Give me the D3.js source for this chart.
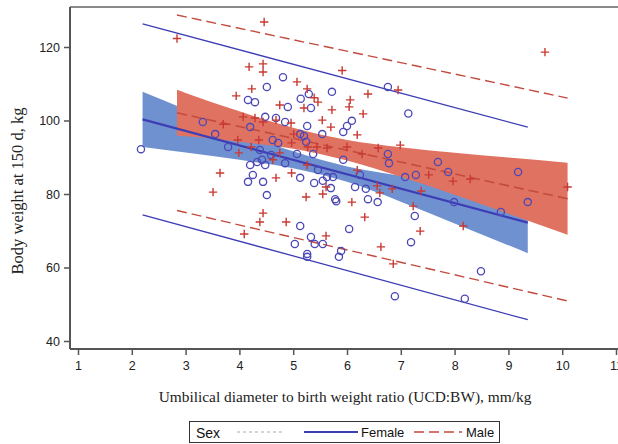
<!DOCTYPE html>
<html>
<head>
<meta charset="utf-8">
<script src="https://cdn.jsdelivr.net/npm/d3@7"></script>
<style>
  html, body { margin: 0; padding: 0; background: #fff; }
  svg { display: block; }
</style>
</head>
<body>
<svg id="chart" width="618" height="444"></svg>
<script>
// Female observations: [UCD:BW ratio, body weight at 150 d]
const femalePoints = [
  [2.17, 92.2], [3.32, 99.6], [4.51, 109.1], [4.81, 111.8], [4.16, 105.6], [4.29, 105.0],
  [4.90, 103.7], [5.14, 105.9], [5.29, 107.2], [5.33, 103.4], [5.72, 107.8], [6.76, 109.1],
  [7.14, 101.9], [4.48, 101.0], [4.68, 100.7], [4.85, 99.6], [4.20, 98.2], [5.26, 98.5],
  [3.55, 96.3], [5.13, 96.3], [5.20, 95.8], [5.54, 96.3], [5.93, 96.9], [6.00, 98.5],
  [6.09, 99.9], [3.79, 92.8], [4.62, 94.7], [4.72, 93.9], [5.24, 94.2], [5.07, 90.9],
  [5.37, 90.9], [4.38, 92.0], [4.59, 90.6], [4.85, 88.4], [4.20, 87.9], [4.33, 88.7],
  [4.42, 89.3], [4.48, 87.9], [4.25, 85.2], [4.16, 83.3], [4.44, 83.3], [5.13, 84.4],
  [5.46, 86.5], [5.63, 84.6], [5.74, 84.6], [5.39, 83.0], [5.93, 89.3], [6.15, 81.9],
  [6.35, 81.4], [5.70, 81.6], [6.76, 90.9], [6.78, 88.4], [4.51, 79.7], [6.24, 85.2],
  [7.69, 88.7], [7.88, 86.0], [7.28, 85.2], [7.08, 84.6], [9.18, 86.0], [9.36, 77.8],
  [8.86, 75.1], [7.99, 77.8], [7.26, 74.0], [8.49, 59.0], [8.19, 51.5], [7.19, 66.9],
  [5.78, 78.6], [5.80, 78.0], [6.39, 78.6], [6.57, 77.8], [6.04, 70.5], [5.13, 71.3],
  [5.33, 68.3], [5.40, 66.4], [5.55, 66.4], [5.89, 64.5], [5.85, 62.9], [5.26, 63.7],
  [5.26, 62.9], [6.89, 52.2], [5.03, 66.4], [5.55, 83.6]
];

// Male observations: [UCD:BW ratio, body weight at 150 d]
const malePoints = [
  [2.84, 122.3], [4.46, 126.8], [9.68, 118.6], [4.18, 114.6], [4.44, 115.4], [4.44, 113.2],
  [5.91, 113.6], [5.07, 110.5], [4.23, 108.6], [3.94, 106.7], [5.26, 108.6], [5.39, 106.2],
  [6.39, 107.2], [6.95, 108.3], [4.75, 104.2], [5.20, 103.4], [5.46, 105.0], [5.72, 102.9],
  [6.06, 105.6], [6.04, 103.7], [6.30, 101.8], [4.07, 101.0], [4.29, 100.7], [3.70, 99.0],
  [4.44, 99.6], [4.68, 100.1], [5.54, 100.1], [5.70, 98.2], [6.19, 96.1], [4.96, 99.3],
  [3.97, 94.7], [4.22, 92.8], [3.99, 91.2], [4.75, 91.2], [4.97, 93.9], [5.27, 92.8],
  [5.44, 92.8], [5.63, 92.5], [6.00, 92.8], [6.28, 90.9], [6.58, 92.5], [6.99, 93.3],
  [4.62, 89.3], [4.97, 85.7], [5.26, 87.9], [6.19, 86.5], [3.64, 85.7], [4.68, 84.4],
  [3.51, 80.5], [5.24, 79.2], [5.55, 80.0], [6.61, 80.3], [6.84, 81.4], [7.52, 85.2],
  [7.97, 83.5], [8.29, 84.1], [10.1, 81.9], [7.38, 80.8], [8.16, 71.3], [7.36, 69.9],
  [7.23, 76.7], [5.61, 81.9], [6.09, 77.8], [6.56, 82.2], [6.33, 73.7], [5.61, 68.6],
  [6.63, 65.6], [6.86, 61.0], [4.44, 74.8], [4.38, 72.4], [4.87, 72.4], [4.09, 69.1],
  [4.36, 94.7], [5.01, 96.3]
];

// Fitted lines (x at each end, predicted weight)
const femaleFitX = [2.2, 9.36];
const femaleFit = [100.3, 72.2];
const maleFitX = [2.84, 10.1];
const maleFit = [102.1, 78.7];

// Prediction limits
const femalePredUpper = [126.3, 98.2];
const femalePredLower = [74.3, 45.8];
const malePredUpper = [128.7, 106.1];
const malePredLower = [75.5, 50.9];

// Confidence bands around the fitted lines
const femaleBandX = [2.2, 3, 4, 5, 6, 7, 8, 9.36];
const femaleBandLower = [92.8, 91.3, 89.3, 87.0, 83.3, 77.9, 72.0, 63.9];
const femaleBandUpper = [107.8, 103.0, 97.1, 91.6, 87.5, 85.0, 83.0, 80.5];
const maleBandX = [2.84, 3, 4, 5, 6, 7, 8, 9, 10.1];
const maleBandLower = [95.85, 95.7, 94.2, 92.3, 89.1, 84.7, 79.8, 74.6, 68.9];
const maleBandUpper = [108.35, 107.5, 102.5, 98.0, 94.7, 92.7, 91.2, 89.9, 88.5];

// Axis ticks and legend entries
const xTicks = [1, 2, 3, 4, 5, 6, 7, 8, 9, 10, 11];
const yTicks = [40, 60, 80, 100, 120];
const legendTitle = "Sex";
const legendLabels = ["Female", "Male"];

const COLORS = {
  femaleLine: "#3d3db5",
  femalePoint: "#4b48b6",
  femaleBand: "#7091d0",
  maleLine: "#c44a3e",
  malePoint: "#c83a33",
  maleBand: "#e07262",
  axis: "#555",
  text: "#222"
};

const svg = d3.select("#chart");

const x = d3.scaleLinear().domain([1, 11]).range([78, 616]);
const y = d3.scaleLinear().domain([40, 120]).range([341, 47]);

const plotLeft = 70, plotTop = 7, plotBottom = 349, plotRight = 618;

// Confidence bands (female under male)
const bandArea = d3.area()
  .x(d => x(d[0]))
  .y0(d => y(d[1]))
  .y1(d => y(d[2]))
  .curve(d3.curveMonotoneX);

svg.append("path")
  .datum(femaleBandX.map((v, i) => [v, femaleBandLower[i], femaleBandUpper[i]]))
  .attr("d", bandArea)
  .attr("fill", COLORS.femaleBand);

svg.append("path")
  .datum(maleBandX.map((v, i) => [v, maleBandLower[i], maleBandUpper[i]]))
  .attr("d", bandArea)
  .attr("fill", COLORS.maleBand);

const line = d3.line().x(d => x(d[0])).y(d => y(d[1]));
const pairs = (xs, ys) => xs.map((v, i) => [v, ys[i]]);

// Prediction limits
[femalePredUpper, femalePredLower].forEach(vals => {
  svg.append("path")
    .datum(pairs(femaleFitX, vals))
    .attr("d", line)
    .attr("fill", "none")
    .attr("stroke", COLORS.femaleLine)
    .attr("stroke-width", 1.3);
});
[malePredUpper, malePredLower].forEach(vals => {
  svg.append("path")
    .datum(pairs(maleFitX, vals))
    .attr("d", line)
    .attr("fill", "none")
    .attr("stroke", COLORS.maleLine)
    .attr("stroke-width", 1.4)
    .attr("stroke-dasharray", "10,5");
});

// Fitted lines
svg.append("path")
  .datum(pairs(femaleFitX, femaleFit))
  .attr("d", line)
  .attr("fill", "none")
  .attr("stroke", COLORS.femaleLine)
  .attr("stroke-width", 2.2);

svg.append("path")
  .datum(pairs(maleFitX, maleFit))
  .attr("d", line)
  .attr("fill", "none")
  .attr("stroke", COLORS.maleLine)
  .attr("stroke-width", 1.6)
  .attr("stroke-dasharray", "10,5");

// Observations
svg.append("g").selectAll("circle")
  .data(femalePoints)
  .join("circle")
  .attr("cx", d => x(d[0]))
  .attr("cy", d => y(d[1]))
  .attr("r", 3.6)
  .attr("fill", "none")
  .attr("stroke", COLORS.femalePoint)
  .attr("stroke-width", 1.3);

const plusSize = 4.2;
svg.append("g").selectAll("path")
  .data(malePoints)
  .join("path")
  .attr("d", d => {
    const cx = x(d[0]), cy = y(d[1]);
    return `M${cx - plusSize},${cy}H${cx + plusSize}M${cx},${cy - plusSize}V${cy + plusSize}`;
  })
  .attr("stroke", COLORS.malePoint)
  .attr("stroke-width", 1.4);

// Frame and axes
svg.append("line")
  .attr("x1", plotLeft).attr("x2", plotRight)
  .attr("y1", plotTop).attr("y2", plotTop)
  .attr("stroke", "#8a8a8a").attr("stroke-width", 2);

const yAxis = d3.axisLeft(y).tickValues(yTicks).tickSize(6).tickPadding(4);
const gy = svg.append("g").attr("transform", `translate(${plotLeft},0)`).call(yAxis);
gy.select(".domain").remove();
gy.append("line")
  .attr("x1", 0).attr("x2", 0)
  .attr("y1", plotTop).attr("y2", plotBottom)
  .attr("stroke", COLORS.axis).attr("stroke-width", 2);

const xAxis = d3.axisBottom(x).tickValues(xTicks).tickSize(6).tickPadding(6);
const gx = svg.append("g").attr("transform", `translate(0,${plotBottom})`).call(xAxis);
gx.select(".domain").remove();
gx.append("line")
  .attr("x1", plotLeft).attr("x2", plotRight)
  .attr("y1", 0).attr("y2", 0)
  .attr("stroke", COLORS.axis).attr("stroke-width", 2);

[gx, gy].forEach(g => {
  g.selectAll(".tick line").attr("stroke", COLORS.axis).attr("stroke-width", 1.5);
  g.selectAll(".tick text")
    .attr("fill", COLORS.text)
    .style("font-family", "'Liberation Sans', Arial, sans-serif")
    .style("font-size", "12.5px");
});

// Axis titles
svg.append("text")
  .attr("x", 345).attr("y", 402)
  .attr("text-anchor", "middle")
  .style("font-family", "'Liberation Serif', 'Times New Roman', serif")
  .style("font-size", "15.4px")
  .attr("fill", COLORS.text)
  .text("Umbilical diameter to birth weight ratio (UCD:BW), mm/kg");

svg.append("text")
  .attr("transform", "translate(23,191) rotate(-90)")
  .attr("text-anchor", "middle")
  .style("font-family", "'Liberation Serif', 'Times New Roman', serif")
  .style("font-size", "16.5px")
  .attr("fill", COLORS.text)
  .text("Body weight at 150 d, kg");

// Legend
const lg = svg.append("g");
lg.append("rect")
  .attr("x", 189.5).attr("y", 421.5)
  .attr("width", 310).attr("height", 21)
  .attr("fill", "#fff")
  .attr("stroke", "#333").attr("stroke-width", 1);

const legendFont = "'Liberation Sans', Arial, sans-serif";
lg.append("text")
  .attr("x", 196).attr("y", 437.5)
  .style("font-family", legendFont).style("font-size", "14px")
  .attr("fill", "#111")
  .text(legendTitle);

lg.append("line")
  .attr("x1", 237).attr("x2", 285).attr("y1", 432).attr("y2", 432)
  .attr("stroke", "#aaa").attr("stroke-width", 1)
  .attr("stroke-dasharray", "3,3");

lg.append("line")
  .attr("x1", 304).attr("x2", 358).attr("y1", 432).attr("y2", 432)
  .attr("stroke", COLORS.femaleLine).attr("stroke-width", 2);
lg.append("text")
  .attr("x", 361).attr("y", 437)
  .style("font-family", legendFont).style("font-size", "13px")
  .attr("fill", "#111")
  .text(legendLabels[0]);

lg.append("line")
  .attr("x1", 414).attr("x2", 462).attr("y1", 432).attr("y2", 432)
  .attr("stroke", COLORS.maleLine).attr("stroke-width", 1.6)
  .attr("stroke-dasharray", "10,5");
lg.append("text")
  .attr("x", 466).attr("y", 437)
  .style("font-family", legendFont).style("font-size", "13px")
  .attr("fill", "#111")
  .text(legendLabels[1]);
</script>
</body>
</html>
